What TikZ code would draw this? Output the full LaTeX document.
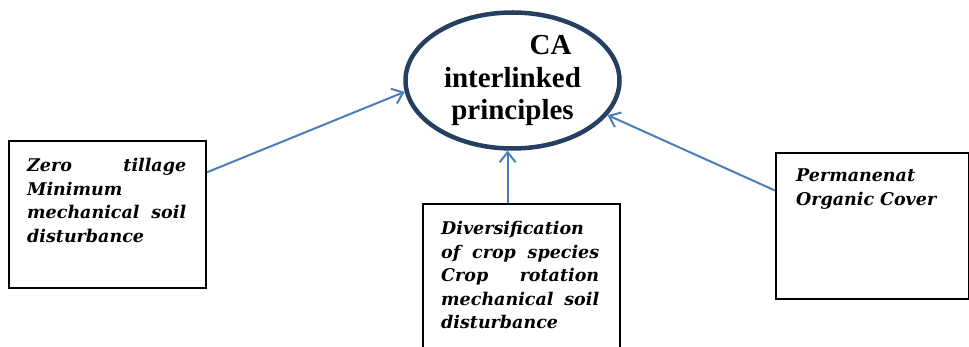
\documentclass[tikz,border=0pt]{standalone}
\usepackage{fontspec}
\setmainfont{Liberation Serif}
\newfontfamily\boxfont{DejaVu Serif}
\usepackage{tikz}
\usetikzlibrary{positioning,calc,shapes.geometric,arrows.meta}
\definecolor{arrowblue}{RGB}{74,126,187}
\definecolor{ovalnavy}{RGB}{36,63,96}

\begin{document}
\begin{tikzpicture}[x=1pt,y=-1pt,
    principle/.style={draw=black,line width=2pt,anchor=north west,inner sep=0pt},
    boxtext/.style={anchor=base west,inner sep=0pt,align=left,font=\boxfont\bfseries\itshape\fontsize{17.5}{23.5}\selectfont},
    link/.style={draw=arrowblue,line width=2pt,-{Straight Barb[length=10pt,width=16pt,line width=2pt]}}]
    \useasboundingbox (0,0) rectangle (969,347);
    \node[ellipse,draw=ovalnavy,line width=4.5pt,minimum width=214,minimum height=136,inner sep=0pt,align=center,
          font=\bfseries\fontsize{29}{32.5}\selectfont] (ca) at (512.5,80.5) {\hspace*{76pt}CA\\interlinked\\principles};
    \node[principle,minimum width=197,minimum height=147] (zero) at (8,140) {};
    \node[principle,minimum width=197,minimum height=165] (div) at (422,203) {};
    \node[principle,minimum width=193,minimum height=146] (perm) at (775,152) {};
    \node[boxtext,text width=159] (zerotext) at (27,172) {Zero\hfill tillage\\Minimum\\mechanical\hfill soil\\disturbance};
    \node[boxtext,text width=158] (divtext) at (441,235) {Diversification\\of\hfill crop\hfill species\\Crop\hfill rotation\\mechanical\hfill soil\\disturbance};
    \node[boxtext,text width=160] (permtext) at (796,182) {Permanenat\\Organic Cover};
    \draw[link] (zero.23) -- (ca.186);
    \draw[link] (div.north -| ca.266) -- (ca.266);
    \draw[link] (perm.160) -- (ca.340);
\end{tikzpicture}
\end{document}
